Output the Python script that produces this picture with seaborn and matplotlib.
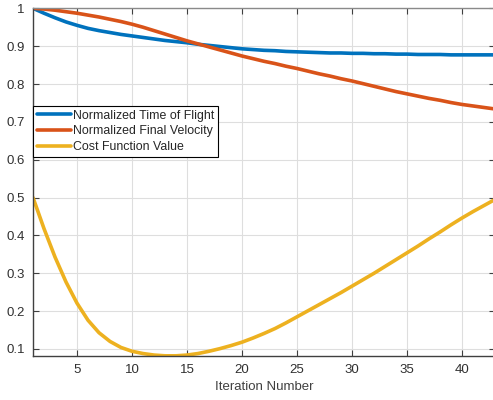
import numpy as np
import pandas as pd
import matplotlib
matplotlib.use("Agg")
import matplotlib.pyplot as plt
import seaborn as sns

iterations = list(range(1, 44))

time_of_flight = [1.000, 0.987, 0.975, 0.964, 0.955, 0.947, 0.941, 0.936, 0.931, 0.927,
                  0.923, 0.919, 0.915, 0.912, 0.909, 0.905, 0.902, 0.899, 0.896, 0.893,
                  0.891, 0.889, 0.888, 0.886, 0.885, 0.884, 0.883, 0.882, 0.882, 0.881,
                  0.881, 0.880, 0.880, 0.879, 0.879, 0.878, 0.878, 0.878, 0.877, 0.877,
                  0.877, 0.877, 0.877]

final_velocity = [1.000, 0.998, 0.995, 0.991, 0.987, 0.982, 0.977, 0.971, 0.965, 0.958,
                  0.950, 0.941, 0.932, 0.923, 0.914, 0.906, 0.898, 0.890, 0.882, 0.874,
                  0.867, 0.860, 0.854, 0.847, 0.841, 0.834, 0.827, 0.821, 0.814, 0.808,
                  0.801, 0.794, 0.787, 0.780, 0.774, 0.768, 0.762, 0.757, 0.751, 0.746,
                  0.742, 0.738, 0.734]

cost_function = [0.500, 0.418, 0.343, 0.277, 0.221, 0.176, 0.143, 0.120, 0.104, 0.094,
                 0.088, 0.084, 0.082, 0.082, 0.084, 0.088, 0.094, 0.101, 0.109, 0.118,
                 0.129, 0.141, 0.154, 0.169, 0.185, 0.201, 0.217, 0.233, 0.249, 0.266,
                 0.283, 0.300, 0.318, 0.336, 0.354, 0.372, 0.391, 0.409, 0.428, 0.446,
                 0.463, 0.479, 0.495]

series_names = ["Normalized Time of Flight", "Normalized Final Velocity", "Cost Function Value"]
series_colors = ["#0072BD", "#D95319", "#EDB120"]

x_ticks = [5, 10, 15, 20, 25, 30, 35, 40]
y_ticks = [0.1, 0.2, 0.3, 0.4, 0.5, 0.6, 0.7, 0.8, 0.9, 1.0]
y_tick_labels = ["0.1", "0.2", "0.3", "0.4", "0.5", "0.6", "0.7", "0.8", "0.9", "1"]
x_label = "Iteration Number"

df = pd.DataFrame({
    "Iteration": iterations * 3,
    "Value": time_of_flight + final_velocity + cost_function,
    "Series": [series_names[0]] * len(iterations)
              + [series_names[1]] * len(iterations)
              + [series_names[2]] * len(iterations),
})

sns.set_style("white")
plt.rcParams["font.family"] = ["Liberation Sans", "DejaVu Sans"]

fig = plt.figure(figsize=(4.93, 4.0), dpi=100)
ax = fig.add_axes([33 / 493, 44 / 400, 462 / 493, 347.7 / 400])

sns.lineplot(data=df, x="Iteration", y="Value", hue="Series",
             hue_order=series_names, palette=series_colors,
             linewidth=2.6, ax=ax, legend=True,
             solid_joinstyle="round", solid_capstyle="round")

ax.set_xlim(1, 43)
ax.set_ylim(0.0815, 1.0)
ax.set_xticks(x_ticks)
ax.set_xticklabels([str(t) for t in x_ticks])
ax.set_yticks(y_ticks)
ax.set_yticklabels(y_tick_labels)
ax.set_xlabel(x_label, fontsize=9.5, color="#404040", labelpad=3)
ax.set_ylabel("")

ax.grid(True, color="#dedede", linewidth=0.8)
ax.set_axisbelow(True)
for side, sp in ax.spines.items():
    sp.set_visible(True)
    sp.set_color("#404040")
    sp.set_linewidth(1.0)
ax.spines["top"].set_color("#8a8a8a")
ax.tick_params(axis="both", direction="in", length=4, width=0.8,
               colors="#404040", labelsize=9.5, top=True, right=True,
               bottom=True, left=True)
ax.tick_params(axis="both", labelcolor="#303030")
ax.tick_params(axis="x", pad=6)
ax.tick_params(axis="y", pad=6)

leg = ax.legend(loc="upper left", bbox_to_anchor=(0.0, 0.719), borderaxespad=0,
                fontsize=8.9, frameon=True, fancybox=False, shadow=False,
                handlelength=2.8, handletextpad=0.15, labelspacing=0.3,
                borderpad=0.3)
leg.get_frame().set_edgecolor("#000000")
leg.get_frame().set_linewidth(0.8)
leg.get_frame().set_alpha(1.0)
for line in leg.get_lines():
    line.set_linewidth(2.6)

fig.savefig("out.png", dpi=100)
